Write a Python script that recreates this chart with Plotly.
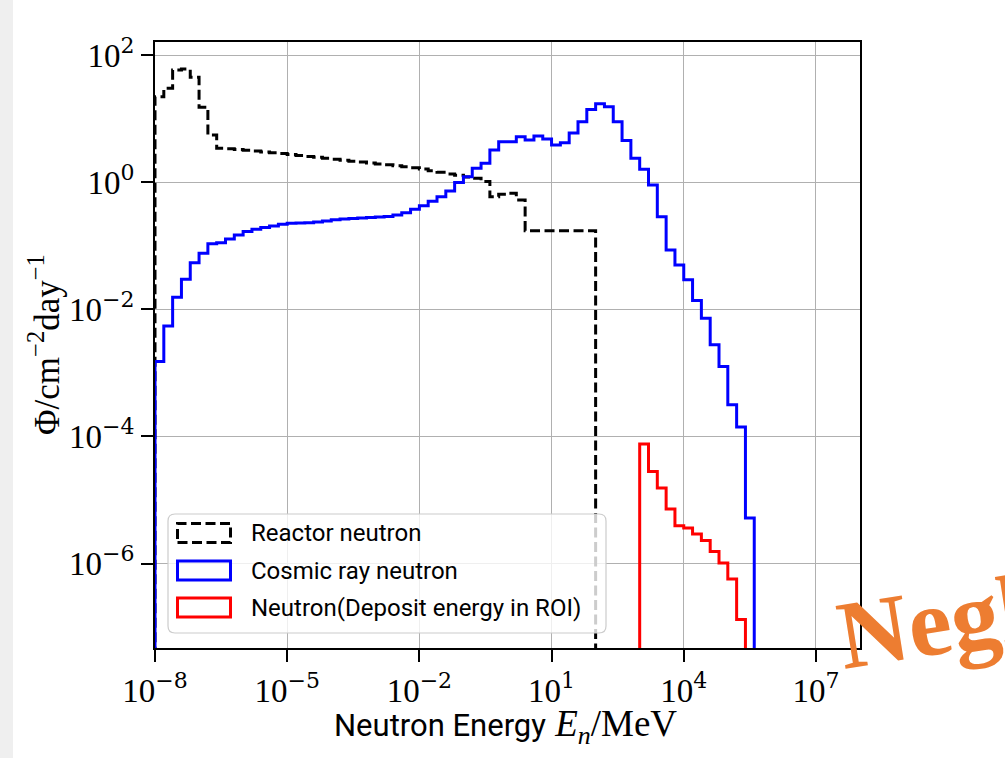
import plotly.graph_objects as go

# ---------------- data ----------------
# histogram bin edges, log10(E / MeV), 0.2-decade bins
edge_exp = [-8.0, -7.8, -7.6, -7.4, -7.2, -7.0, -6.8, -6.6, -6.4, -6.2,
            -6.0, -5.8, -5.6, -5.4, -5.2, -5.0, -4.8, -4.6, -4.4, -4.2,
            -4.0, -3.8, -3.6, -3.4, -3.2, -3.0, -2.8, -2.6, -2.4, -2.2,
            -2.0, -1.8, -1.6, -1.4, -1.2, -1.0, -0.8, -0.6, -0.4, -0.2,
            0.0, 0.2, 0.4, 0.6, 0.8, 1.0, 1.2, 1.4, 1.6, 1.8,
            2.0, 2.2, 2.4, 2.6, 2.8, 3.0, 3.2, 3.4, 3.6, 3.8,
            4.0, 4.2, 4.4, 4.6, 4.8, 5.0, 5.2, 5.4, 5.6]

# Reactor neutron flux, bins 0..49
reactor_start = 0
reactor = [22.3, 30.2, 58.6, 60.8, 45.0, 15.3, 5.57, 3.44, 3.39, 3.29,
           3.20, 3.11, 3.01, 2.92, 2.84, 2.75, 2.66, 2.56, 2.48, 2.39,
           2.32, 2.24, 2.16, 2.09, 2.02, 1.95, 1.89, 1.82, 1.76, 1.70,
           1.62, 1.53, 1.44, 1.36, 1.29, 1.22, 1.16, 1.03, 0.596, 0.650,
           0.674, 0.529, 0.174, 0.174, 0.174, 0.174, 0.174, 0.174, 0.174, 0.174]

# Cosmic ray neutron flux, bins 0..67
cosmic_start = 0
cosmic = [1.51e-3, 5.5e-3, 0.0156, 0.0299, 0.0545, 0.0767, 0.108, 0.112, 0.129, 0.149,
          0.168, 0.183, 0.194, 0.206, 0.219, 0.227, 0.229, 0.232, 0.238, 0.247,
          0.259, 0.266, 0.270, 0.275, 0.281, 0.286, 0.291, 0.307, 0.334, 0.377,
          0.430, 0.504, 0.596, 0.733, 1.00, 1.23, 1.67, 2.00, 3.23, 4.37,
          4.37, 5.23, 4.65, 5.37, 4.82, 3.88, 4.2, 5.98, 9.02, 14.1,
          17.3, 15.5, 9.0, 4.56, 2.39, 1.61, 0.91, 0.289, 0.0865, 0.0502,
          0.0292, 0.0138, 0.00728, 0.00277, 0.00126, 3.15e-4, 1.41e-4, 5.2e-6]

# Neutrons depositing energy in ROI, bins 55..66
roi_start = 55
roi = [7.6e-5, 2.81e-5, 1.54e-5, 7.2e-6, 3.94e-6, 3.62e-6,
       2.91e-6, 2.31e-6, 1.55e-6, 1.02e-6, 5.7e-7, 1.31e-7]

series_names = ["Reactor neutron", "Cosmic ray neutron", "Neutron(Deposit energy in ROI)"]

x_tick_exp = [-8, -5, -2, 1, 4, 7]
y_tick_exp = [2, 0, -2, -4, -6]

# ---------------- helpers ----------------
FLOOR = 1e-15  # below the visible range: histogram outline goes to the bottom


def step_outline(start, values):
    xs = [10 ** edge_exp[start]]
    ys = [FLOOR]
    for i, v in enumerate(values):
        xs += [10 ** edge_exp[start + i], 10 ** edge_exp[start + i + 1]]
        ys += [v, v]
    xs.append(10 ** edge_exp[start + len(values)])
    ys.append(FLOOR)
    return xs, ys


def sup(e):
    s = str(e).replace("-", "\u2212")
    return ("10<sup><span style='font-family:DejaVu Serif;font-size:22px'>"
            + s + "</span></sup>")


W, H = 1005, 758
L, R, T, B = 155, 860, 42, 648  # plot area in pixels
PW, PH = R - L, B - T


def px(x):
    return (x - L) / PW


def py(y):
    return (B - y) / PH


SERIF = "Liberation Serif"
SANS = "Roboto"

fig = go.Figure()

rx, ry = step_outline(reactor_start, reactor)
cx, cy = step_outline(cosmic_start, cosmic)
nx, ny = step_outline(roi_start, roi)

fig.add_trace(go.Scatter(x=rx, y=ry, mode="lines", name=series_names[0],
                         line=dict(color="black", width=3, dash="10px,4.5px"),
                         showlegend=False))
fig.add_trace(go.Scatter(x=cx, y=cy, mode="lines", name=series_names[1],
                         line=dict(color="#0000ff", width=3),
                         showlegend=False))
fig.add_trace(go.Scatter(x=nx, y=ny, mode="lines", name=series_names[2],
                         line=dict(color="#ff0000", width=3),
                         showlegend=False))

axis_common = dict(
    type="log", showgrid=True, gridcolor="#b0b0b0", gridwidth=1.2,
    showline=True, mirror=True, linecolor="black", linewidth=1.8,
    ticks="outside", ticklen=12, tickwidth=1.8, tickcolor="black",
    tickfont=dict(family=SERIF, size=33, color="black"), zeroline=False,
)

fig.update_layout(
    width=W, height=H,
    margin=dict(l=L, r=W - R, t=T, b=H - B),
    paper_bgcolor="white", plot_bgcolor="white",
    xaxis=dict(range=[-8, 8],
               tickvals=[10 ** e for e in x_tick_exp],
               ticktext=[sup(e) for e in x_tick_exp], **axis_common),
    yaxis=dict(range=[-7.33, 2.21],
               tickvals=[10 ** e for e in y_tick_exp],
               ticktext=[sup(e) for e in y_tick_exp], **axis_common),
    showlegend=False,
)

shapes = []
annotations = []

# light grey slide border on the left
shapes.append(dict(type="rect", xref="paper", yref="paper",
                   x0=px(0), x1=px(13), y0=py(H), y1=py(0),
                   fillcolor="#efefef", line=dict(width=0), layer="below"))

# ---- manual legend (rounded box, patch handles) ----
lx0, lx1, ly0, ly1, rad = 168, 606, 514, 633, 7
path = (f"M {px(lx0 + rad)},{py(ly0)} L {px(lx1 - rad)},{py(ly0)} "
        f"Q {px(lx1)},{py(ly0)} {px(lx1)},{py(ly0 + rad)} "
        f"L {px(lx1)},{py(ly1 - rad)} Q {px(lx1)},{py(ly1)} {px(lx1 - rad)},{py(ly1)} "
        f"L {px(lx0 + rad)},{py(ly1)} Q {px(lx0)},{py(ly1)} {px(lx0)},{py(ly1 - rad)} "
        f"L {px(lx0)},{py(ly0 + rad)} Q {px(lx0)},{py(ly0)} {px(lx0 + rad)},{py(ly0)} Z")
shapes.append(dict(type="path", xref="paper", yref="paper", path=path,
                   fillcolor="rgba(255,255,255,0.8)",
                   line=dict(color="#cccccc", width=1.2), layer="above"))

row_y = [533, 570.5, 607.5]
handle_styles = [dict(color="black", width=3, dash="10px,4.5px"),
                 dict(color="#0000ff", width=3),
                 dict(color="#ff0000", width=3)]
for name, yc, st in zip(series_names, row_y, handle_styles):
    shapes.append(dict(type="rect", xref="paper", yref="paper",
                       x0=px(177.5), x1=px(230.5), y0=py(yc + 9.5), y1=py(yc - 9.5),
                       line=st, fillcolor="rgba(0,0,0,0)", layer="above"))
    annotations.append(dict(xref="paper", yref="paper", x=px(249), y=py(yc),
                            xanchor="left", yanchor="middle", showarrow=False,
                            text=name, font=dict(family=SANS, size=24, color="black")))

# axis titles
annotations.append(dict(xref="paper", yref="paper", x=px(505), y=py(726),
                        xanchor="center", yanchor="middle", showarrow=False,
                        text=f"<span style='font-family:{SANS};font-size:31px'>Neutron Energy</span> "
                             "<i>E</i><sub><i>n</i></sub>/MeV",
                        font=dict(family=SERIF, size=37, color="black")))
annotations.append(dict(xref="paper", yref="paper", x=px(44), y=py((T + B) / 2),
                        xanchor="center", yanchor="middle", showarrow=False,
                        textangle=-90,
                        text="\u03a6/cm<sup>\u22122</sup>day<sup>\u22121</sup>",
                        font=dict(family=SERIF, size=35, color="black")))

# orange overlay word (cut by the page edge)
annotations.append(dict(xref="paper", yref="paper", x=px(1043), y=py(604),
                        xanchor="center", yanchor="middle", showarrow=False,
                        textangle=-9, text="<b>Negligible</b>",
                        font=dict(family=SERIF, size=97, color="#ED7D31")))

fig.update_layout(shapes=shapes, annotations=annotations)

fig.write_html("out.html")
